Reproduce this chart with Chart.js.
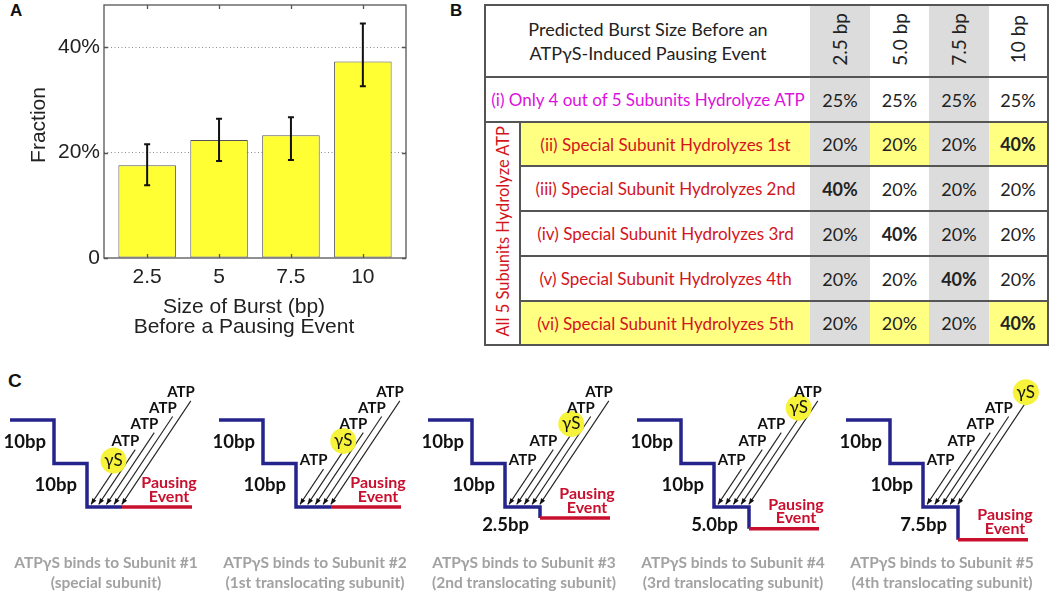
<!DOCTYPE html>
<html>
<head>
<meta charset="utf-8">
<script src="https://cdn.jsdelivr.net/npm/chart.js@4.4.1/dist/chart.umd.min.js"></script>
<style>
  html, body { margin:0; padding:0; background:#fff; }
  body { width:1050px; height:592px; position:relative; overflow:hidden; font-family:'Lato', sans-serif; }
  .abs { position:absolute; }
  .panel-letter { font-family:'Liberation Sans', Arial, sans-serif; font-weight:bold; font-size:17px; color:#111; }
  .axis-text { font-family:'Liberation Sans', Arial, sans-serif; font-size:21px; color:#222; }
  #tbl { position:absolute; left:484px; top:4px; border-collapse:collapse; table-layout:fixed; border:2px solid #555; font-family:'Lato', sans-serif; }
  #tbl td { padding:0; border:none; border-top:2px solid #555; text-align:center; vertical-align:middle; font-size:17px; color:#222; white-space:nowrap; }
  #tbl .gray { background:#dcdcdc; }
  #tbl .yel { background:#ffff82; }
  #tbl .vert { writing-mode:vertical-rl; transform:rotate(180deg); display:inline-block; }
  .caption { font-family:'Lato', sans-serif; font-weight:bold; font-size:15.5px; color:#a2a2a2; text-align:center; line-height:20px; width:240px; }
</style>
</head>
<body>

<!-- ─── PANEL A ─────────────────────────────────────────────── -->
<div class="abs panel-letter" style="left:10px;top:1px;">A</div>
<canvas id="chart-a" class="abs" width="420" height="340" style="left:0;top:0;"></canvas>
<div class="abs axis-text" style="left:-22px;top:113px;width:120px;text-align:center;transform:rotate(-90deg);line-height:24px;">Fraction</div>
<div class="abs axis-text" style="left:94px;top:296px;width:300px;text-align:center;line-height:20px;">Size of Burst (bp)<br>Before a Pausing Event</div>

<!-- ─── PANEL B ─────────────────────────────────────────────── -->
<div class="abs panel-letter" style="left:450px;top:1px;">B</div>
<table id="tbl"></table>

<!-- ─── PANEL C ─────────────────────────────────────────────── -->
<div class="abs panel-letter" style="left:8px;top:370px;font-size:19px;">C</div>
<div id="panel-c"></div>

<script>
// ─── DATA ─────────────────────────────────────────────────────────────────────
// panel A: measured burst sizes before a pausing event
const burstSizes = [2.5, 5, 7.5, 10];
const fractions  = [17.6, 22.4, 23.3, 37.3];
const errHigh    = [21.6, 26.4, 26.7, 44.5];
const errLow     = [13.8, 18.4, 18.6, 32.6];
const yTicks     = [0, 20, 40];

// panel B: predicted burst size table
const tableHeader = ['Predicted Burst Size Before an', 'ATPγS-Induced Pausing Event'];
const tableCols   = ['2.5 bp', '5.0 bp', '7.5 bp', '10 bp'];
const groupLabel  = 'All 5 Subunits Hydrolyze ATP';
const rowLabels   = [
  '(i) Only 4 out of 5 Subunits Hydrolyze ATP',
  '(ii) Special Subunit Hydrolyzes 1st',
  '(iii) Special Subunit Hydrolyzes 2nd',
  '(iv) Special Subunit Hydrolyzes 3rd',
  '(v) Special Subunit Hydrolyzes 4th',
  '(vi) Special Subunit Hydrolyzes 5th'
];
const rowValues = [
  [25, 25, 25, 25],
  [20, 20, 20, 40],
  [40, 20, 20, 20],
  [20, 40, 20, 20],
  [20, 20, 40, 20],
  [20, 20, 20, 40]
];
const highlightRows = [1, 5];
const grayCols = [0, 2];

// panel C: schematic per ATPγS binding position
const stepBp     = [10, 10];
const burstBp    = [0, 0, 2.5, 5.0, 7.5];
const burstLabel = ['', '', '2.5bp', '5.0bp', '7.5bp'];
const gammaSlot  = [0, 1, 2, 3, 4];
const captionTop = ['ATPγS binds to Subunit #1', 'ATPγS binds to Subunit #2', 'ATPγS binds to Subunit #3', 'ATPγS binds to Subunit #4', 'ATPγS binds to Subunit #5'];
const captionBot = ['(special subunit)', '(1st translocating subunit)', '(2nd translocating subunit)', '(3rd translocating subunit)', '(4th translocating subunit)'];

// ─── PANEL A CHART ────────────────────────────────────────────────────────────
const AXIS_FONT = { family:"'Liberation Sans', Arial, sans-serif", size:21 };

const errorBars = {
  id: 'errorBars',
  afterDatasetsDraw(chart) {
    const { ctx, scales:{x, y} } = chart;
    ctx.save();
    ctx.strokeStyle = '#111';
    ctx.lineWidth = 2;
    burstSizes.forEach((b, i) => {
      const px = x.getPixelForValue(b);
      const top = y.getPixelForValue(errHigh[i]), bot = y.getPixelForValue(errLow[i]);
      ctx.beginPath();
      ctx.moveTo(px, top); ctx.lineTo(px, bot);
      ctx.moveTo(px - 3, top); ctx.lineTo(px + 3, top);
      ctx.moveTo(px - 3, bot); ctx.lineTo(px + 3, bot);
      ctx.stroke();
    });
    ctx.restore();
  }
};

const axesBox = {
  id: 'axesBox',
  afterDraw(chart) {
    const { ctx, chartArea:a, scales:{x, y} } = chart;
    ctx.save();
    ctx.strokeStyle = '#555';
    ctx.lineWidth = 1.3;
    ctx.strokeRect(a.left, a.top, a.right - a.left, a.bottom - a.top);
    ctx.beginPath();
    burstSizes.forEach(b => {
      const px = Math.round(x.getPixelForValue(b)) + 0.5;
      ctx.moveTo(px, a.top); ctx.lineTo(px, a.top + 4);
      ctx.moveTo(px, a.bottom); ctx.lineTo(px, a.bottom - 4);
    });
    yTicks.forEach(v => {
      const py = Math.round(y.getPixelForValue(v)) + 0.5;
      ctx.moveTo(a.left, py); ctx.lineTo(a.left + 4, py);
      ctx.moveTo(a.right, py); ctx.lineTo(a.right - 4, py);
    });
    ctx.stroke();
    ctx.restore();
  }
};

new Chart(document.getElementById('chart-a').getContext('2d'), {
  type: 'bar',
  data: { datasets: [{
    data: burstSizes.map((b, i) => ({ x:b, y:fractions[i] })),
    backgroundColor:'#ffff33', borderColor:'#555', borderWidth:1, borderSkipped:false,
    categoryPercentage:1, barPercentage:0.8
  }] },
  options: {
    responsive:false, animation:false, devicePixelRatio:1,
    layout: { padding:{ left:0, top:5, right:14, bottom:0 } },
    plugins: { legend:{display:false}, tooltip:{enabled:false} },
    scales: {
      x: {
        type:'linear', min:1, max:11.5, offset:false,
        afterBuildTicks: s => { s.ticks = burstSizes.map(v => ({ value:v })); },
        afterFit: s => { s.height = 82; s.paddingLeft = 0; s.paddingRight = 0; },
        grid:{ display:false, drawTicks:false, offset:false }, border:{ display:false },
        ticks:{ font:AXIS_FONT, color:'#222', padding:7, maxRotation:0, autoSkip:false, callback: v => String(v) }
      },
      y: {
        min:0, max:48,
        afterBuildTicks: s => { s.ticks = yTicks.map(v => ({ value:v })); },
        afterFit: s => { s.width = 104; s.paddingTop = 0; s.paddingBottom = 0; },
        grid:{ color: c => c.tick && c.tick.value === 0 ? 'rgba(0,0,0,0)' : '#8c8c8c', drawTicks:false, lineWidth:1 },
        border:{ display:false, dash:[1,2.5] },
        ticks:{ font:AXIS_FONT, color:'#222', padding:4, callback: v => v === 0 ? '0' : v + '%' }
      }
    }
  },
  plugins: [errorBars, axesBox]
});

// ─── PANEL B TABLE ────────────────────────────────────────────────────────────
function buildTable() {
  const colW = [35, 290, 60, 59, 60, 59];
  const rowH = [72, 45, 44, 45, 45, 45, 44];
  let html = '<colgroup>' + colW.map(w => `<col style="width:${w}px">`).join('') + '</colgroup>';
  html += `<tr style="height:${rowH[0]}px"><td colspan="2" style="border-top:none;line-height:24px;font-size:18px;">${tableHeader.join('<br>')}</td>`;
  tableCols.forEach((c, j) => {
    html += `<td class="${grayCols.includes(j) ? 'gray' : ''}" style="border-top:none;"><span class="vert" style="font-size:19px;line-height:20px;">${c}</span></td>`;
  });
  html += '</tr>';
  rowLabels.forEach((lab, r) => {
    const hi = highlightRows.includes(r);
    html += `<tr style="height:${rowH[r+1]}px">`;
    if (r === 0) {
      html += `<td colspan="2" style="color:#dd10dd;">${lab}</td>`;
    } else {
      if (r === 1) html += `<td rowspan="5" style="border-right:2px solid #555;color:#d4141c;"><span class="vert" style="font-size:16.5px;">${groupLabel}</span></td>`;
      html += `<td class="${hi ? 'yel' : ''}" style="color:#d4141c;">${lab}</td>`;
    }
    rowValues[r].forEach((v, j) => {
      const cls = grayCols.includes(j) ? 'gray' : (hi ? 'yel' : '');
      const bold = v === 40 ? 'font-weight:bold;' : '';
      html += `<td class="${cls}" style="font-size:18px;${bold}">${v}%</td>`;
    });
    html += '</tr>';
  });
  document.getElementById('tbl').innerHTML = html;
}
buildTable();

// ─── PANEL C DIAGRAMS ─────────────────────────────────────────────────────────
const PX_PER_BP = 4.35;
const STEP_X = [44, 77, 112];       // right end of each horizontal tread
const PAUSE_END = 182;
const SLOT_Y = [9.3, 4.8, 0.9, -2.8, -6.4];   // label rows, bottom → top
const TIP_Y = 19.4;
const X_MIN = -12, X_MAX = 202;
const C_TOP = 375, C_H = 180;
const Y_MIN = -(420 - C_TOP) / PX_PER_BP;
const Y_MAX = Y_MIN + C_H / PX_PER_BP;
const BLUE = '#24248c', RED = '#c8102e';

function arrowGeom(k) {
  const tipX = 81 + 7.7 * k;
  const topY = SLOT_Y[k] + 2;
  const topX = tipX + (TIP_Y - topY) * PX_PER_BP / 1.5;
  return { tipX, topY, topX };
}

const diagramText = {
  id: 'diagramText',
  afterDatasetsDraw(chart, args, opts) {
    const { ctx, scales:{x, y} } = chart;
    const i = opts.index;
    const drop = stepBp[0] + stepBp[1] + burstBp[i];
    ctx.save();
    // arrowheads
    ctx.fillStyle = '#111';
    for (let k = 0; k < 5; k++) {
      const g = arrowGeom(k);
      const x1 = x.getPixelForValue(g.tipX), y1 = y.getPixelForValue(TIP_Y);
      const x2 = x.getPixelForValue(g.topX), y2 = y.getPixelForValue(g.topY);
      const ang = Math.atan2(y1 - y2, x1 - x2);
      ctx.beginPath();
      ctx.moveTo(x1, y1);
      ctx.lineTo(x1 - 6 * Math.cos(ang) + 2.4 * Math.sin(ang), y1 - 6 * Math.sin(ang) - 2.4 * Math.cos(ang));
      ctx.lineTo(x1 - 6 * Math.cos(ang) - 2.4 * Math.sin(ang), y1 - 6 * Math.sin(ang) + 2.4 * Math.cos(ang));
      ctx.closePath();
      ctx.fill();
    }
    // slot labels
    ctx.textBaseline = 'middle';
    for (let k = 0; k < 5; k++) {
      const g = arrowGeom(k);
      if (k === gammaSlot[i]) {
        ctx.textAlign = 'center';
        ctx.font = "17px 'Lato', 'DejaVu Sans', sans-serif";
        ctx.fillStyle = '#111';
        ctx.fillText('γS', x.getPixelForValue(g.topX - 1), y.getPixelForValue(SLOT_Y[k]));
      } else {
        ctx.textAlign = 'right';
        ctx.font = "bold 15px 'Lato', sans-serif";
        ctx.fillStyle = '#111';
        ctx.fillText('ATP', x.getPixelForValue(g.topX + 4), y.getPixelForValue(SLOT_Y[k]));
      }
    }
    // step sizes
    ctx.textAlign = 'right';
    ctx.font = "bold 18.5px 'Lato', sans-serif";
    ctx.fillStyle = '#111';
    ctx.fillText(stepBp[0] + 'bp', x.getPixelForValue(STEP_X[0] - 8), y.getPixelForValue(stepBp[0] / 2));
    ctx.fillText(stepBp[1] + 'bp', x.getPixelForValue(STEP_X[1] - 10), y.getPixelForValue(stepBp[0] + stepBp[1] / 2));
    if (burstLabel[i]) ctx.fillText(burstLabel[i], x.getPixelForValue(STEP_X[2] - 11), y.getPixelForValue(stepBp[0] + stepBp[1] + 4.2));
    // pausing event
    ctx.textAlign = 'center';
    ctx.font = "bold 16px 'Lato', sans-serif";
    ctx.fillStyle = RED;
    ctx.fillText('Pausing', x.getPixelForValue(159), y.getPixelForValue(drop - 5.6));
    ctx.fillText('Event', x.getPixelForValue(159), y.getPixelForValue(drop - 2.4));
    ctx.restore();
  }
};

function buildDiagram(i) {
  const x0 = 10 + 209 * i;
  const cv = document.createElement('canvas');
  cv.width = X_MAX - X_MIN; cv.height = C_H;
  cv.className = 'abs';
  cv.style.left = (x0 + X_MIN) + 'px';
  cv.style.top = C_TOP + 'px';
  document.getElementById('panel-c').appendChild(cv);

  const l1 = stepBp[0], l2 = stepBp[0] + stepBp[1], drop = l2 + burstBp[i];
  const stair = [
    { x:0, y:0 }, { x:STEP_X[0], y:0 }, { x:STEP_X[0], y:l1 }, { x:STEP_X[1], y:l1 },
    { x:STEP_X[1], y:l2 }, { x:STEP_X[2], y:l2 }, { x:STEP_X[2], y:drop }
  ];
  const pause = [{ x:STEP_X[2], y:drop }, { x:PAUSE_END, y:drop }];
  const g = arrowGeom(gammaSlot[i]);

  const datasets = [
    { data:[{ x:g.topX - 1, y:SLOT_Y[gammaSlot[i]] }], pointRadius:13, pointBackgroundColor:'#f6f33a', pointBorderWidth:0, showLine:false }
  ];
  for (let k = 0; k < 5; k++) {
    const a = arrowGeom(k);
    datasets.push({ data:[{ x:a.tipX, y:TIP_Y }, { x:a.topX, y:a.topY }], showLine:true, borderColor:'#222', borderWidth:1.1, pointRadius:0 });
  }
  datasets.push({ data:pause, showLine:true, borderColor:RED, borderWidth:3.5, pointRadius:0, borderCapStyle:'butt' });
  datasets.push({ data:stair, showLine:true, borderColor:BLUE, borderWidth:3.5, pointRadius:0, borderJoinStyle:'miter', borderCapStyle:'butt' });

  new Chart(cv.getContext('2d'), {
    type:'scatter',
    data:{ datasets },
    options:{
      responsive:false, animation:false, devicePixelRatio:1, events:[],
      layout:{ padding:0, autoPadding:false },
      plugins:{ legend:{display:false}, tooltip:{enabled:false}, diagramText:{ index:i } },
      scales:{
        x:{ type:'linear', display:false, min:X_MIN, max:X_MAX },
        y:{ type:'linear', display:false, reverse:true, min:Y_MIN, max:Y_MAX }
      }
    },
    plugins:[diagramText]
  });

  const cap = document.createElement('div');
  cap.className = 'abs caption';
  cap.style.left = (x0 + 96 - 120) + 'px';
  cap.style.top = '552px';
  cap.innerHTML = captionTop[i] + '<br>' + captionBot[i];
  document.getElementById('panel-c').appendChild(cap);
}
burstBp.forEach((_, i) => buildDiagram(i));
</script>
</body>
</html>
